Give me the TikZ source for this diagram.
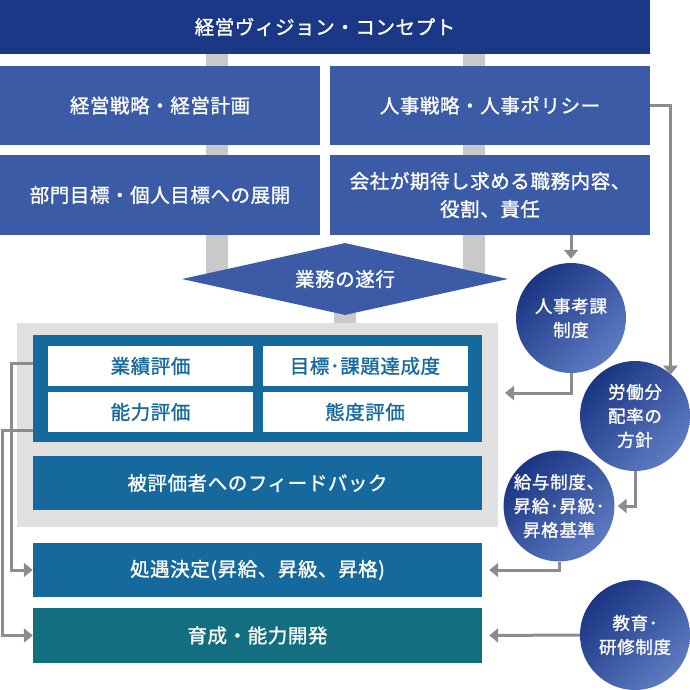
\documentclass[tikz,border=0pt]{standalone}
\usepackage{fontspec}
\newfontfamily\jpbox{Noto Sans CJK JP}[FakeBold=1.2, LetterSpace=3]
\newfontfamily\jpcirc{Noto Sans CJK JP}[FakeBold=1.2, LetterSpace=4]
\usetikzlibrary{shapes.geometric,arrows.meta,calc}
\definecolor{navytop}{HTML}{1A3886}
\definecolor{boxblue}{HTML}{3C5BA7}
\definecolor{tealbox}{HTML}{15699D}
\definecolor{greenbox}{HTML}{136E80}
\definecolor{barg}{HTML}{C9C9C9}
\definecolor{contg}{HTML}{E1E1E1}
\definecolor{arrg}{HTML}{8C8C8C}
\definecolor{circd}{HTML}{1A3582}
\definecolor{circl}{HTML}{5E7BC2}
\begin{document}
\begin{tikzpicture}[x=1pt,y=-1pt,
  txt/.style={font=\jpbox\fontsize{19.5}{28}\selectfont, text=white, align=center},
  boxs/.style={txt, draw=none, inner sep=0pt, anchor=center},
  cell/.style={boxs, fill=white, text=tealbox, minimum width=205pt, minimum height=40pt},
  wide/.style={boxs, minimum width=449pt, minimum height=54pt},
  circ/.style={circle, inner sep=0pt, minimum size=110pt, top color=circd, bottom color=circl, shading angle=45,
     font=\jpcirc\fontsize{17.5}{24}\selectfont, text=white, align=center},
  conn/.style={draw=arrg, line width=3pt, -{Triangle[width=14pt,length=9pt]}},
  bar/.style={fill=barg}]
\useasboundingbox (0,0) rectangle (690,690);
% gray bars behind
\fill[bar] (206,54) rectangle (228,282);
\fill[bar] (463,54) rectangle (485,282);
\fill[bar] (334,300) rectangle (356,323);
% top boxes
\node[boxs, fill=navytop, minimum width=650pt, minimum height=54pt] (vis) at (325,27) {経営ヴィジョン・コンセプト};
\node[boxs, fill=boxblue, minimum width=320pt, minimum height=79pt] (ls) at (160,105.5) {経営戦略・経営計画};
\node[boxs, fill=boxblue, minimum width=320pt, minimum height=79pt] (hr) at (490,105.5) {人事戦略・人事ポリシー};
\node[boxs, fill=boxblue, minimum width=320pt, minimum height=80pt] (lt) at (160,195) {部門目標・個人目標への展開};
\node[boxs, fill=boxblue, minimum width=320pt, minimum height=80pt] (rt) at (490,195) {会社が期待し求める職務内容、\\役割、責任};
% diamond
\node[diamond, fill=boxblue, txt, inner sep=0pt, minimum width=326pt, minimum height=72pt, shape aspect=4.5] (dia) at (345,279) {業務の遂行};
% evaluation group
\node[boxs, fill=contg, minimum width=481pt, minimum height=204pt] (cont) at (257.5,425) {};
\node[boxs, fill=tealbox, minimum width=449pt, minimum height=107pt] (ev) at (257.5,388.5) {};
\node[cell] (c1) at (150.5,366) {業績評価};
\node[cell] (c2) at (365,366) {目標･課題達成度};
\node[cell] (c3) at (150.5,412) {能力評価};
\node[cell] (c4) at (365,412) {態度評価};
\node[wide, fill=tealbox] (fb) at (257.5,483) {被評価者へのフィードバック};
\node[wide, fill=tealbox] (sh) at (257.5,570) {処遇決定(昇給、昇級、昇格)};
\node[wide, fill=greenbox, minimum height=55pt] (ik) at (257.5,635.5) {育成・能力開発};
% circles
\node[circ] (jk) at (571,318) {人事考課\\制度};
\node[circ] (lab) at (635,416) {労働分\\配率の\\方針};
\node[circ] (kyu) at (559,506) {給与制度、\\昇給･昇級･\\昇格基準};
\node[circ] (edu) at (635,635) {教育･\\研修制度};
% connectors
\coordinate (a1) at (505,393);
\draw[conn, shorten >=-1pt] (hr.east) -| (lab.50);
\draw[conn, shorten >=4pt] (jk.north |- rt.south) -- (jk.north);
\draw[conn] (jk.south) |- (a1);
\draw[conn, shorten >=3pt] (lab.south) |- (kyu.east);
\draw[conn, shorten >=7pt] (kyu.south) |- (sh.east);
\draw[conn, shorten >=7pt] (edu.west) -- (ik.east);
\draw[conn] ($(ev.west |- c1.west)+(0,-3)$) -| ++(-21,0) |- (sh.west);
\draw[conn] ($(ev.west |- c3.south)+(0,-2)$) -| ++(-30,0) |- (ik.west);
\end{tikzpicture}
\end{document}
